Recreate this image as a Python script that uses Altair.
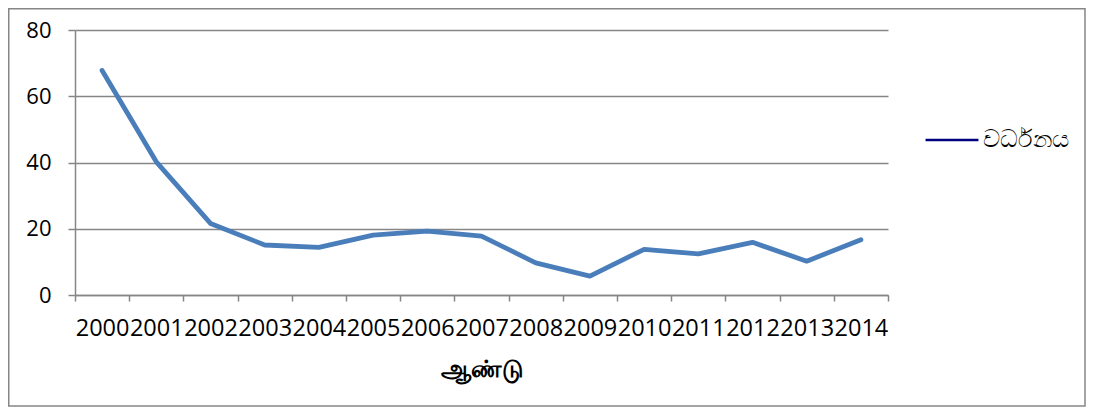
import altair as alt
import pandas as pd

years = [str(y) for y in range(2000, 2015)]
values = [67.8, 40.2, 21.6, 15.1, 14.4, 18.1, 19.3, 17.8, 9.7, 5.7, 13.8, 12.4, 15.9, 10.2, 16.7]
series_name = "වර්ධනය"
x_title = "ஆண்டு"

df = pd.DataFrame({"year": years, "value": values, "series": [series_name] * len(years)})

FONT = "Open Sans"
W, H = 813, 265
PL, PT = 67, 22
PR, PB = 1078 - PL - W, 112

base = alt.Chart(df)

xenc = alt.X("year:O", title=x_title,
             scale=alt.Scale(type="band", paddingInner=0, paddingOuter=0),
             axis=alt.Axis(labelAngle=0, labelOverlap=False, tickBand="extent",
                           labelFont=FONT, labelFontSize=23.5, labelColor="#000000",
                           labelPadding=15, tickSize=6, tickColor="#868686",
                           domainColor="#868686", domainWidth=1.5, tickWidth=1.5,
                           titleFont="Noto Sans", titleFontSize=24, titleFontWeight="bold",
                           titleColor="#000000", titlePadding=18))
yenc = alt.Y("value:Q", title=None,
             scale=alt.Scale(domain=[0, 80], nice=False),
             axis=alt.Axis(values=[0, 20, 40, 60, 80], grid=True, gridColor="#868686",
                           gridWidth=1.5, tickSize=7, tickColor="#868686",
                           domainColor="#868686", domainWidth=1.5, tickWidth=1.5,
                           labelFont=FONT, labelFontSize=22, labelColor="#000000",
                           labelPadding=17))

line = base.mark_line(strokeWidth=4.8, strokeCap="round", strokeJoin="round",
                      color="#4a7ebb").encode(x=xenc, y=yenc)

legend_layer = base.mark_line(strokeWidth=0).encode(
    x="year:O", y="value:Q",
    color=alt.Color("series:N", scale=alt.Scale(range=["#00007f"]),
                    legend=alt.Legend(title=None, orient="none", legendX=849, legendY=82,
                                      symbolType="stroke", symbolOpacity=1,
                                      symbolStrokeWidth=2.5, symbolSize=2800,
                                      labelFont="Noto Sans", labelFontSize=24,
                                      labelColor="#000000", labelOffset=3)),
)

border = alt.Chart(pd.DataFrame({"a": [0]})).mark_rect(
    fill=None, stroke="#868686", strokeWidth=1.5, clip=False
).encode(
    x=alt.value(-PL + 0.75), x2=alt.value(W + PR - 1),
    y=alt.value(-PT + 0.75), y2=alt.value(H + PB - 1),
)

chart = alt.layer(border, line, legend_layer).properties(
    width=W, height=H,
    autosize=alt.AutoSizeParams(type="none"),
    padding={"left": PL, "top": PT, "right": PR, "bottom": PB},
).configure_view(stroke=None)

chart.save("out.html", embed_options={"renderer": "svg", "actions": False})
